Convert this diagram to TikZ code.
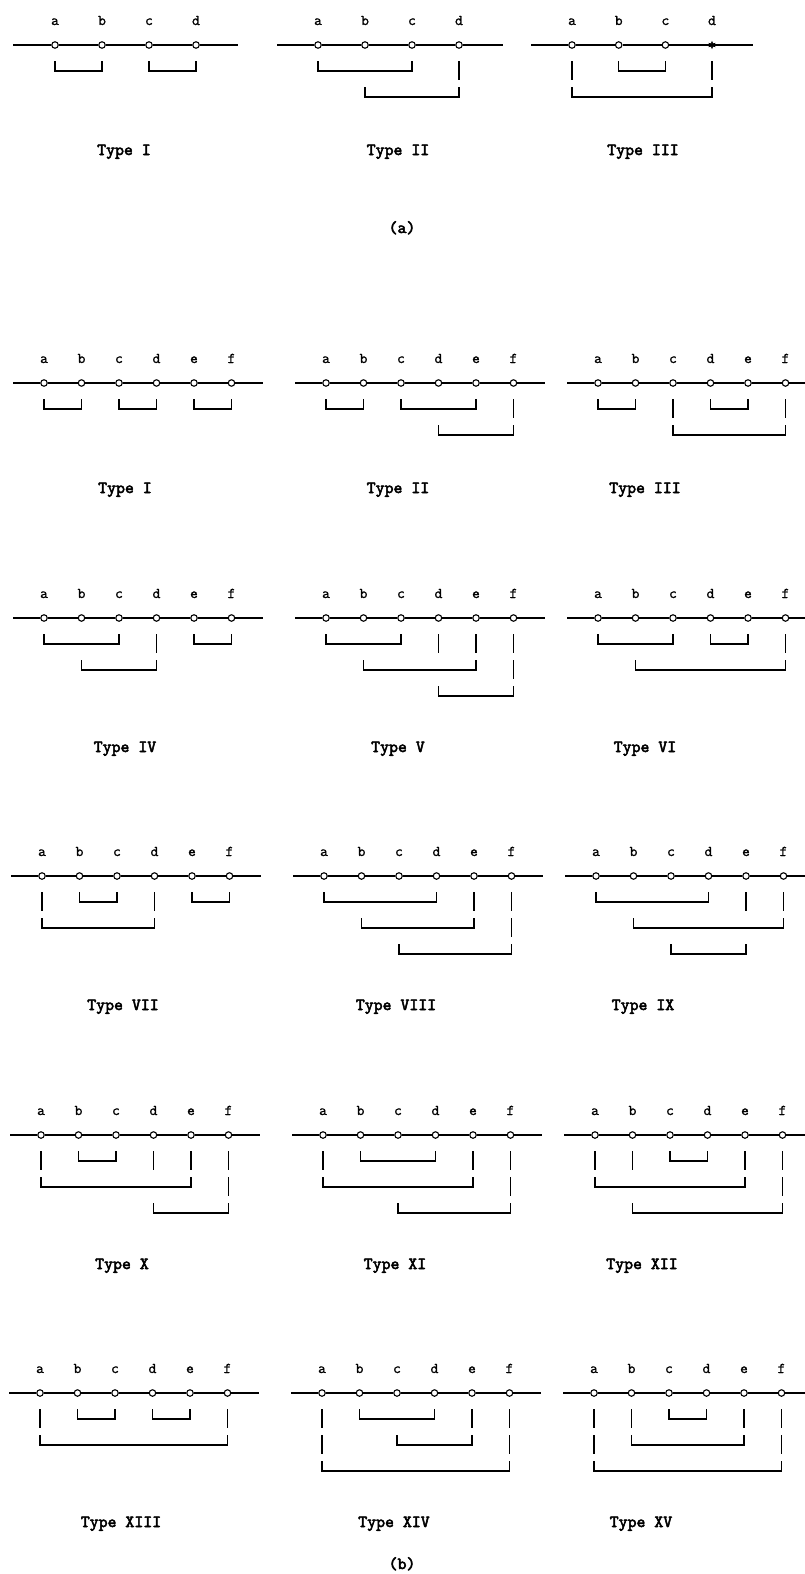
\documentclass[tikz,border=0pt]{standalone}
\usepackage{fontspec}
\newfontfamily\typefont{lmmono10-regular.otf}[FakeBold=3]
\newfontfamily\letterfont{lmmono10-regular.otf}[FakeBold=1]
\usetikzlibrary{shapes.geometric}

\tikzset{
  site/.style={circle, draw, fill=white, line width=1.1pt, inner sep=0pt, minimum size=6.5pt},
  starsite/.style={star, star points=6, star point ratio=2.2, fill, draw, line width=0.5pt, inner sep=0pt, minimum size=7pt},
  letter/.style={anchor=base, inner sep=0pt, font=\letterfont\fontsize{15}{15}\selectfont},
  typename/.style={anchor=base, inner sep=0pt, font=\typefont\fontsize{17}{17}\selectfont},
  axisline/.style={line width=1.3pt},
  hookline/.style={line width=1.3pt}
}

% one row of sites: prefix, x of the first site, y of the axis, spacing, letters
\newcommand{\sitesrow}[5]{%
  \foreach \s [count=\i from 0] in {#5} {
    \node[site] (#1\s) at ({#2+\i*#4},-#3) {};
    \node[letter] (#1\s-lab) at ({#2+\i*#4},-#3+20) {\s};
  }%
}
% axis through the sites: prefix, y, left end, right end, sites
\newcommand{\siteaxis}[5]{%
  \coordinate (#1l) at (#3,-#2);
  \coordinate (#1r) at (#4,-#2);
  \foreach \s [remember=\s as \t (initially l)] in {#5,r}
    \draw[axisline] (#1\t) -- (#1\s);
}
% six sites a..f with their axis: prefix, x of site a, y of the axis
\newcommand{\panelsix}[3]{%
  \sitesrow{#1}{#2}{#3}{37.5}{a,b,c,d,e,f}
  \siteaxis{#1}{#3}{#2-31}{#2+218.5}{a,b,c,d,e,f}
}
% brackets: prefix, list of from/to/level
\newcommand{\hooks}[2]{%
  \foreach \p/\q/\l in {#2}
    \draw[hookline] ([yshift={10-26*\l}]#1\p.center) |- ([yshift={-26*\l}]#1\q.center)
      -- ([yshift={10-26*\l}]#1\q.center);
}
% upper legs of a bracket end: prefix, list of site/level
\newcommand{\legs}[2]{%
  \foreach \n/\k in {#2}
    \draw[hookline] ([yshift={10-26*\k}]#1\n.center) -- ([yshift={-9-26*\k}]#1\n.center);
}

\begin{document}
\begin{tikzpicture}[x=1pt, y=1pt]
\useasboundingbox (0,0) rectangle (805,-1574);

% (a)
\sitesrow{A1}{55}{45}{47}{a,b,c,d}
\siteaxis{A1}{45}{13}{238}{a,b,c,d}
\hooks{A1}{a/b/1, c/d/1}
\node[typename] (tA1) at (124,-155) {Type I};

\sitesrow{A2}{318}{45}{47}{a,b,c,d}
\siteaxis{A2}{45}{277}{503}{a,b,c,d}
\hooks{A2}{a/c/1, b/d/2}
\legs{A2}{d/1}
\node[typename] (tA2) at (398,-155) {Type II};

\sitesrow{A3}{572}{45}{46.7}{a,b,c}
\node[starsite] (A3d) at (712,-45) {};
\node[letter] (A3d-lab) at (712,-25) {d};
\siteaxis{A3}{45}{531}{753}{a,b,c,d}
\hooks{A3}{b/c/1, a/d/2}
\legs{A3}{a/1, d/1}
\node[typename] (tA3) at (643,-155) {Type III};

\node[typename] (capA) at (402,-233) {(a)};

% (b), first row
\panelsix{B1}{44}{383}
\hooks{B1}{a/b/1, c/d/1, e/f/1}
\node[typename] (tB1) at (125,-493) {Type I};

\panelsix{B2}{326}{383}
\hooks{B2}{a/b/1, c/e/1, d/f/2}
\legs{B2}{f/1}
\node[typename] (tB2) at (398,-493) {Type II};

\panelsix{B3}{598}{383}
\hooks{B3}{a/b/1, d/e/1, c/f/2}
\legs{B3}{c/1, f/1}
\node[typename] (tB3) at (645,-493) {Type III};

% second row
\panelsix{B4}{44}{618}
\hooks{B4}{a/c/1, e/f/1, b/d/2}
\legs{B4}{d/1}
\node[typename] (tB4) at (125,-752) {Type IV};

\panelsix{B5}{326}{618}
\hooks{B5}{a/c/1, b/e/2, d/f/3}
\legs{B5}{e/1, d/1, f/1, f/2}
\node[typename] (tB5) at (398,-752) {Type V};

\panelsix{B6}{598}{618}
\hooks{B6}{a/c/1, d/e/1, b/f/2}
\legs{B6}{f/1}
\node[typename] (tB6) at (645,-752) {Type VI};

% third row
\panelsix{B7}{42}{876}
\hooks{B7}{b/c/1, e/f/1, a/d/2}
\legs{B7}{a/1, d/1}
\node[typename] (tB7) at (123,-1010) {Type VII};

\panelsix{B8}{324}{876}
\hooks{B8}{a/d/1, b/e/2, c/f/3}
\legs{B8}{e/1, f/1, f/2}
\node[typename] (tB8) at (396,-1010) {Type VIII};

\panelsix{B9}{596}{876}
\hooks{B9}{a/d/1, b/f/2, c/e/3}
\legs{B9}{f/1, e/1}
\node[typename] (tB9) at (643,-1010) {Type IX};

% fourth row
\panelsix{B10}{41}{1135}
\hooks{B10}{b/c/1, a/e/2, d/f/3}
\legs{B10}{a/1, e/1, d/1, f/1, f/2}
\node[typename] (tB10) at (122,-1269) {Type X};

\panelsix{B11}{323}{1135}
\hooks{B11}{b/d/1, a/e/2, c/f/3}
\legs{B11}{a/1, e/1, f/1, f/2}
\node[typename] (tB11) at (395,-1269) {Type XI};

\panelsix{B12}{595}{1135}
\hooks{B12}{c/d/1, a/e/2, b/f/3}
\legs{B12}{a/1, e/1, b/1, f/1, f/2}
\node[typename] (tB12) at (642,-1269) {Type XII};

% fifth row
\panelsix{B13}{40}{1393}
\hooks{B13}{b/c/1, d/e/1, a/f/2}
\legs{B13}{a/1, f/1}
\node[typename] (tB13) at (121,-1527) {Type XIII};

\panelsix{B14}{322}{1393}
\hooks{B14}{b/d/1, c/e/2, a/f/3}
\legs{B14}{e/1, a/1, a/2, f/1, f/2}
\node[typename] (tB14) at (394,-1527) {Type XIV};

\panelsix{B15}{594}{1393}
\hooks{B15}{c/d/1, b/e/2, a/f/3}
\legs{B15}{b/1, e/1, a/1, a/2, f/1, f/2}
\node[typename] (tB15) at (641,-1527) {Type XV};

\node[typename] (capB) at (402,-1569) {(b)};
\end{tikzpicture}
\end{document}
